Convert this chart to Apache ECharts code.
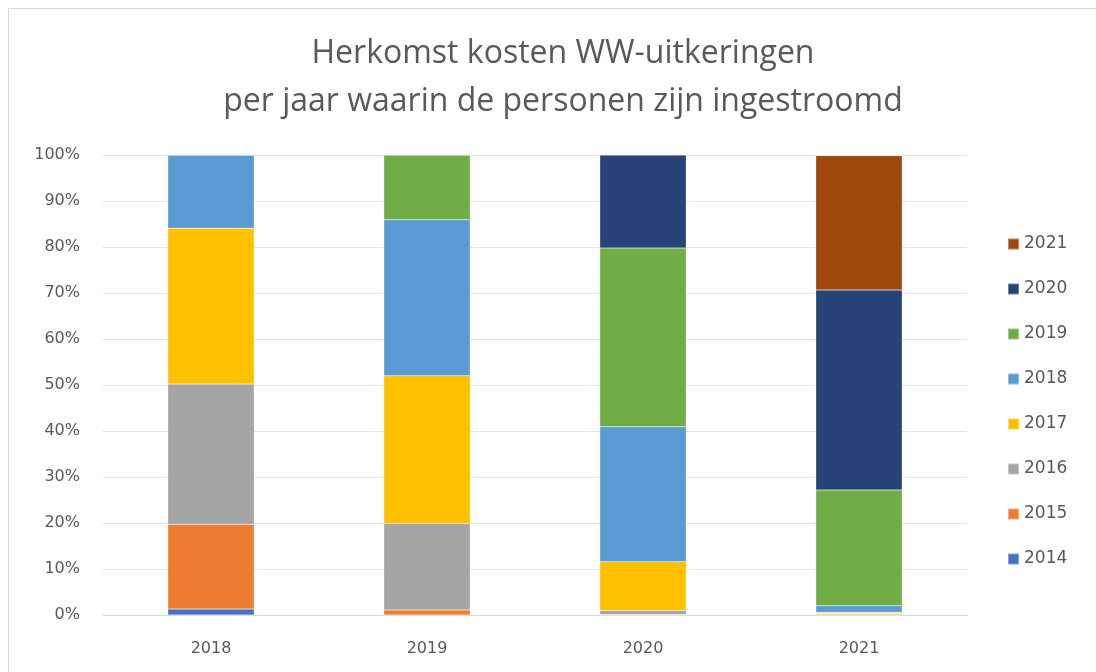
<!DOCTYPE html>
<html><head><meta charset="utf-8">
<script src="https://cdn.jsdelivr.net/npm/echarts@6/dist/echarts.min.js"></script>
<style>html,body{margin:0;padding:0;background:#fff}#c{width:1096px;height:672px}</style>
</head><body><div id="c"></div>
<script>
const categories = ['2018', '2019', '2020', '2021'];
const seriesNames = ['2014', '2015', '2016', '2017', '2018', '2019', '2020', '2021'];
const v2014 = [1.3, 0, 0, 0];
const v2015 = [18.4, 1.1, 0.1, 0.2];
const v2016 = [30.5, 18.8, 0.9, 0.1];
const v2017 = [33.9, 32.1, 10.6, 0.3];
const v2018 = [15.9, 33.9, 29.3, 1.4];
const v2019 = [0, 14.1, 38.9, 25.2];
const v2020 = [0, 0, 20.2, 43.45];
const v2021 = [0, 0, 0, 29.2];
const values = [v2014, v2015, v2016, v2017, v2018, v2019, v2020, v2021];
const colors = ['#4472C4', '#ED7D31', '#A5A5A5', '#FFC000', '#5B9BD5', '#70AD47', '#264478', '#9E480E'];
const yTicks = [0, 10, 20, 30, 40, 50, 60, 70, 80, 90, 100];

const chart = echarts.init(document.getElementById('c'), null, {renderer: 'canvas'});
const font = '"Open Sans", "Liberation Sans", sans-serif';
const lblFont = '"DejaVu Sans", sans-serif';
chart.setOption({
  animation: false,
  color: colors,
  title: {
    text: 'Herkomst kosten WW-uitkeringen\nper jaar waarin de personen zijn ingestroomd',
    left: 558, top: 25, textAlign: 'center',
    textStyle: {fontFamily: font, fontSize: 32, fontWeight: 'normal', color: '#595959', lineHeight: 48}
  },
  legend: {
    orient: 'vertical', left: 1002, top: 229, itemGap: 25,
    itemWidth: 11, itemHeight: 11, icon: 'rect',
    data: seriesNames.slice().reverse(),
    textStyle: {fontFamily: lblFont, fontSize: 17, color: '#595959', lineHeight: 20, padding: [0, 0, 0, 0]}
  },
  grid: {left: 103, right: 129, top: 155, bottom: 57, containLabel: false},
  xAxis: {
    type: 'category', data: categories,
    axisLine: {show: true, lineStyle: {color: '#D9D9D9', width: 1}},
    axisTick: {show: false},
    axisLabel: {fontFamily: lblFont, fontSize: 16, color: '#595959', margin: 26}
  },
  yAxis: {
    type: 'value', min: 0, max: 100, interval: 10,
    axisLine: {show: false}, axisTick: {show: false},
    splitLine: {lineStyle: {color: '#E3E3E3', width: 1}},
    axisLabel: {fontFamily: lblFont, fontSize: 16, color: '#595959', margin: 23,
      formatter: v => yTicks.includes(v) ? v + '%' : ''}
  },
  series: seriesNames.map((n, i) => ({
    name: n, type: 'bar', stack: 'total', barWidth: '40%',
    data: values[i],
    itemStyle: {color: colors[i], borderColor: 'rgba(255,255,255,0.35)', borderWidth: 0.5}
  })),
  graphic: [{
    type: 'rect', shape: {x: 8.5, y: 8.5, width: 1100, height: 680},
    style: {fill: 'none', stroke: '#D9D9D9', lineWidth: 1}, silent: true
  }]
});
</script></body></html>
